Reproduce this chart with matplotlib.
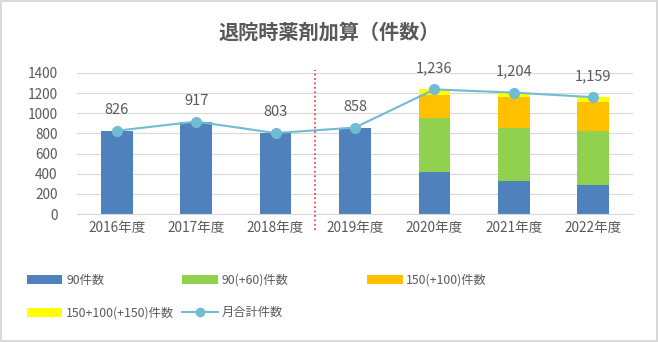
import matplotlib.pyplot as plt
from matplotlib.patches import Patch
from matplotlib.lines import Line2D
import numpy as np

plt.rcParams['font.family'] = ['Noto Sans CJK JP', 'DejaVu Sans']

years = ['2016年度', '2017年度', '2018年度', '2019年度', '2020年度', '2021年度', '2022年度']
n90 = [826, 917, 803, 858, 413, 331, 288]
n90_60 = [0, 0, 0, 0, 536, 519, 536]
n150_100 = [0, 0, 0, 0, 236, 308, 284]
n150_100_150 = [0, 0, 0, 0, 51, 46, 51]
totals = [826, 917, 803, 858, 1236, 1204, 1159]

series_names = ['90件数', '90(+60)件数', '150(+100)件数', '150+100(+150)件数']
colors = ['#4F81BD', '#92D050', '#FFC000', '#FFFF00']
line_color = '#6FBCD3'
text_color = '#595959'

fig = plt.figure(figsize=(6.58, 3.42), dpi=100, edgecolor='#D9D9D9', linewidth=1.5)
ax = fig.add_axes([0.117, 0.374, 0.845, 0.413])

x = np.arange(len(years))
bottom = np.zeros(len(years))
for vals, c in zip([n90, n90_60, n150_100, n150_100_150], colors):
    ax.bar(x, vals, width=0.4, bottom=bottom, color=c, zorder=2)
    bottom += np.array(vals)

ax.plot(x, totals, color=line_color, lw=1.5, marker='o', ms=7, zorder=3)
for xi, t in zip(x, totals):
    ax.annotate(f'{t:,}', (xi, t), xytext=(0, 10), textcoords='offset points',
                ha='center', va='bottom', fontsize=10.5, color=text_color)

# 区切り線
ax.plot([2.5, 2.5], [-160, 1430], color='#E03030', ls=':', lw=1.2, clip_on=False, zorder=4)

ax.set_xlim(-0.5, 6.5)
ax.set_ylim(0, 1400)
ax.set_yticks(range(0, 1401, 200))
ax.set_xticks(x)
ax.set_xticklabels(years)
ax.grid(axis='y', color='#D9D9D9', lw=0.8, zorder=0)
for s in ['top', 'right', 'left']:
    ax.spines[s].set_visible(False)
ax.spines['bottom'].set_color('#D9D9D9')
ax.tick_params(length=0, labelsize=9.8, colors=text_color, pad=5)
ax.tick_params(axis='y', pad=14)

fig.text(0.5, 0.905, '退院時薬剤加算（件数）', ha='center', va='center',
         fontsize=14.5, fontweight='bold', color=text_color)

# 凡例
handles = [Patch(facecolor=c, edgecolor='none') for c in colors]
handles.append(Line2D([], [], color=line_color, marker='o', ms=6, lw=1.5))
labels = series_names + ['月合計件数']
pos = [(0.041, 0.18), (0.277, 0.18), (0.558, 0.18), (0.041, 0.085), (0.277, 0.085)]
for h, l, p in zip(handles, labels, pos):
    lg = fig.legend([h], [l], loc='center left', bbox_to_anchor=p, frameon=False,
                    fontsize=8.8, handlelength=2.9, handleheight=0.75, handletextpad=0.3,
                    borderaxespad=0, borderpad=0)
    for t in lg.get_texts():
        t.set_color(text_color)

fig.savefig('out.png', dpi=100)
